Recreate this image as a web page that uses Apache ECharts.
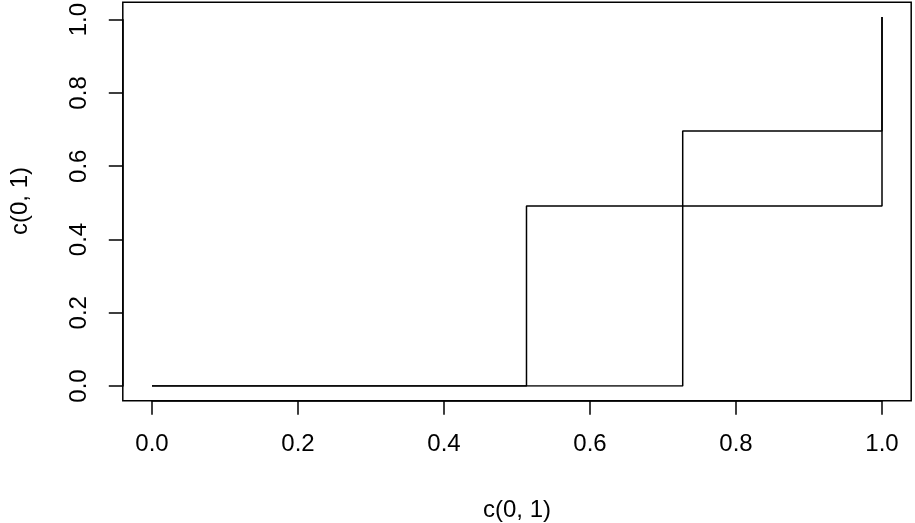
<!DOCTYPE html>
<html>
<head>
<meta charset="utf-8">
<script src="https://cdn.jsdelivr.net/npm/echarts@6/dist/echarts.min.js"></script>
<style>
  html, body { margin: 0; padding: 0; background: #fff; }
  #chart { width: 915px; height: 523px; }
</style>
</head>
<body>
<div id="chart"></div>
<script>
// step breakpoints of the two curves
const stepA = [[0, 0], [0.513, 0.488], [1, 1]]
const stepB = [[0, 0], [0.727, 0.691], [1, 1]]
// tick labels
const xTicks = ['0.0', '0.2', '0.4', '0.6', '0.8', '1.0']
const yTicks = ['0.0', '0.2', '0.4', '0.6', '0.8', '1.0']
const xTitle = 'c(0, 1)'
const yTitle = 'c(0, 1)'

const font = 'Liberation Sans, Arial, Helvetica, sans-serif'
const fs = 24
const lw = 1.5

const chart = echarts.init(document.getElementById('chart'), null, { renderer: 'canvas' })

const lineSeries = (data) => ({
  type: 'line',
  data: data,
  step: 'end',
  symbol: 'none',
  xAxisIndex: 0,
  yAxisIndex: 0,
  lineStyle: { color: '#000', width: lw }
})

// hidden axis for the grids that only carry ticks
const hiddenAxis = (gridIndex) => ({
  type: 'value',
  gridIndex: gridIndex,
  min: 0,
  max: 1,
  show: false
})

// visible tick axis like R's axis()
const tickAxis = (gridIndex, labels, extra) => Object.assign({
  type: 'value',
  gridIndex: gridIndex,
  min: 0,
  max: 1,
  interval: 0.2,
  axisLine: { show: true, lineStyle: { color: '#000', width: lw } },
  axisTick: { show: true, length: 14, lineStyle: { color: '#000', width: lw } },
  splitLine: { show: false }
}, extra, {
  axisLabel: Object.assign({
    color: '#000',
    fontSize: fs,
    fontFamily: font,
    formatter: (v) => labels[Math.round(v * 5)]
  }, extra.axisLabel)
})

const option = {
  backgroundColor: '#fff',
  animation: false,
  grid: [
    // data area
    { left: 152, right: 33, top: 17, bottom: 137 },
    // x axis sits on the bottom of the box
    { left: 152, right: 33, top: 17, bottom: 122.2 },
    // y axis sits on the left of the box
    { left: 122.8, right: 33, top: 17, bottom: 137 }
  ],
  xAxis: [
    hiddenAxis(0),
    tickAxis(1, xTicks, { axisLabel: { margin: 32 } }),
    hiddenAxis(2)
  ],
  yAxis: [
    hiddenAxis(0),
    hiddenAxis(1),
    tickAxis(2, yTicks, { axisLabel: { margin: 31, rotate: 90 } })
  ],
  graphic: [
    {
      type: 'rect',
      shape: { x: 122.8, y: 2.2, width: 788.4, height: 398.6 },
      style: { fill: 'none', stroke: '#000', lineWidth: lw },
      silent: true
    },
    {
      type: 'text',
      x: 517,
      y: 510,
      style: { text: xTitle, font: fs + 'px ' + font, fill: '#000', textAlign: 'center', textVerticalAlign: 'middle' }
    },
    {
      type: 'text',
      x: 20,
      y: 201,
      rotation: Math.PI / 2,
      style: { text: yTitle, font: fs + 'px ' + font, fill: '#000', textAlign: 'center', textVerticalAlign: 'middle' }
    }
  ],
  series: [lineSeries(stepA), lineSeries(stepB)]
}
chart.setOption(option)
</script>
</body>
</html>
